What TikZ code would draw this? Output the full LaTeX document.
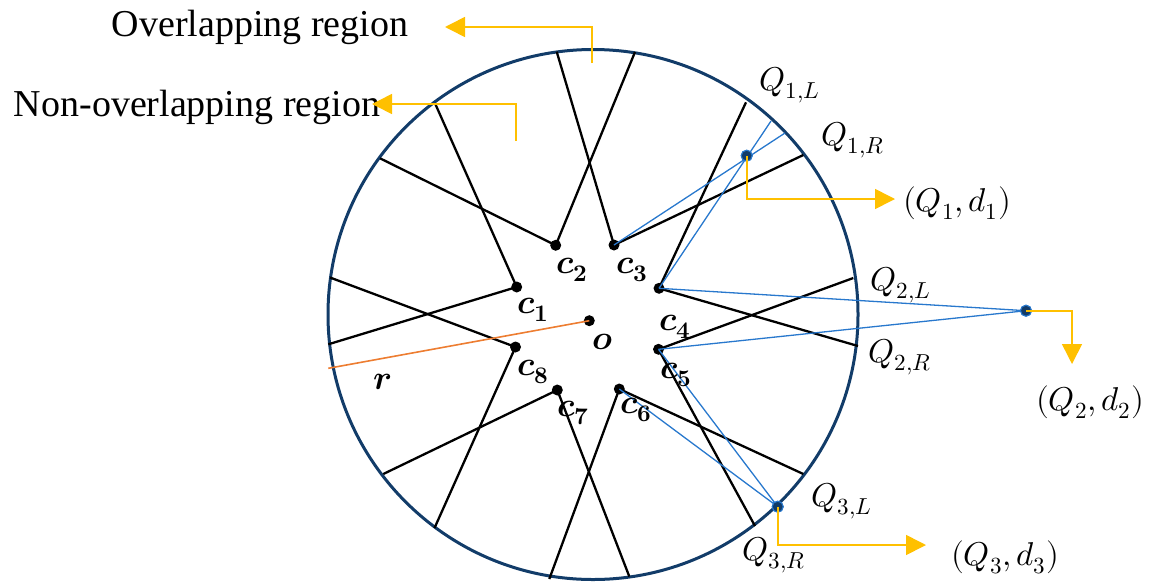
\documentclass[tikz,border=0pt]{standalone}
\usepackage{fontspec}
\usepackage{unicode-math}
\setmathfont{Latin Modern Math}
\usetikzlibrary{arrows.meta}
\newfontfamily\regionfont{Liberation Serif}
\definecolor{navy}{RGB}{18,60,105}
\definecolor{qblue}{RGB}{40,120,205}
\definecolor{yel}{RGB}{255,192,0}
\definecolor{orng}{RGB}{237,125,49}
\tikzset{
  rim/.style={draw=navy, line width=3pt},
  spoke/.style={draw=black, line width=2.3pt},
  ray/.style={draw=qblue, line width=1.3pt},
  radius line/.style={draw=orng, line width=1.6pt},
  yarrow/.style={draw=yel, line width=1.6pt, -{Triangle[length=20pt,width=20pt]}},
  dot/.style={circle, fill=black, inner sep=0pt, minimum size=11pt},
  qdot/.style={circle, fill=navy, draw=qblue, line width=1pt, inner sep=0pt, minimum size=11pt},
  clab/.style={inner sep=0pt, font=\fontsize{34}{38}\selectfont},
  qlab/.style={inner sep=0pt, font=\fontsize{33}{37}\selectfont},
  rtext/.style={inner sep=0pt, font=\regionfont\fontsize{38}{44}\selectfont}
}
\begin{document}
\begin{tikzpicture}[x=1pt,y=-1pt]
\useasboundingbox (0,0) rectangle (1150,584);
% rim
\coordinate (O) at (593,314.5);
\draw[rim] (O) circle[radius=265];
% circle end points
\coordinate (A1) at (435,103.3);
\coordinate (B1) at (328.3,344.3);
\coordinate (A2) at (380,158.3);
\coordinate (B2) at (635,52);
\coordinate (A3) at (556.7,51.7);
\coordinate (B3) at (803.3,155);
\coordinate (A4) at (746,102.3);
\coordinate (B4) at (858,346);
\coordinate (A5) at (853.3,278);
\coordinate (B5) at (755,526);
\coordinate (A6) at (803.3,474);
\coordinate (B6) at (549.3,579);
\coordinate (A7) at (629.3,576.5);
\coordinate (B7) at (383.3,474);
\coordinate (A8) at (330,277.5);
\coordinate (B8) at (434.5,528);
\coordinate (R) at (328.3,368.3);
\coordinate (E1) at (771,121);
\coordinate (E2) at (785,133);
% centre points
\node[dot] (c1) at (516.7,287) {};
\node[dot] (c2) at (555.7,245.3) {};
\node[dot] (c3) at (614,245) {};
\node[dot] (c4) at (659,288.3) {};
\node[dot] (c5) at (658.5,349.3) {};
\node[dot] (c6) at (619.3,389) {};
\node[dot] (c7) at (557.3,390) {};
\node[dot] (c8) at (515.5,347) {};
\node[dot] (o) at (589.3,320.7) {};
% spokes
\foreach \i in {1,...,8}{
  \draw[spoke] (A\i) -- (c\i.center) -- (B\i);
}
% radius
\draw[radius line] (o.center) -- (R);
% Q points and rays
\node[qdot] (Q1) at (746.7,155.7) {};
\node[qdot] (Q2) at (1026,310.7) {};
\node[qdot] (Q3) at (777.7,506.7) {};
\draw[ray] (c3.center) -- (E2);
\draw[ray] (c4.center) -- (E1);
\draw[ray] (c4.center) -- (Q2.center) -- (c5.center);
\draw[ray] (c5.center) -- (Q3.center) -- (c6.center);
\node[qdot] at (Q1) {};
\node[qdot] at (Q2) {};
\node[qdot] at (Q3) {};
% yellow arrows
\coordinate (t1) at (895,199);
\coordinate (t2) at (1072,364);
\coordinate (t3) at (926,545);
\draw[yarrow] (Q1.center) |- (t1);
\draw[yarrow] (Q2.center) -| (t2);
\draw[yarrow] (Q3.center) |- (t3);
\coordinate (ov) at (592,63);
\coordinate (ovt) at (445,27);
\coordinate (nov) at (516,141);
\coordinate (novt) at (372,104);
% region texts
\node[rtext] (tov) at (260,27) {Overlapping region};
\node[rtext] (tnov) at (197,107) {Non-overlapping region};
\draw[yarrow] (ov) |- (ovt);
\draw[yarrow] (nov) |- (novt);
% c labels
\node[clab] (l1) at (533,310) {$\symbfit{c}_{\symbf{1}}$};
\node[clab] (l2) at (572,270) {$\symbfit{c}_{\symbf{2}}$};
\node[clab] (l3) at (632,270) {$\symbfit{c}_{\symbf{3}}$};
\node[clab] (l4) at (675,327) {$\symbfit{c}_{\symbf{4}}$};
\node[clab] (l5) at (676,375) {$\symbfit{c}_{\symbf{5}}$};
\node[clab] (l6) at (636,410) {$\symbfit{c}_{\symbf{6}}$};
\node[clab] (l7) at (573,413) {$\symbfit{c}_{\symbf{7}}$};
\node[clab] (l8) at (533,372) {$\symbfit{c}_{\symbf{8}}$};
\node[clab] (lo) at (603,342) {$\symbfit{o}$};
\node[clab] (lr) at (383,382) {$\symbfit{r}$};
% Q labels
\node[qlab] (q1l) at (790,85) {$Q_{1,L}$};
\node[qlab] (q1r) at (853,140) {$Q_{1,R}$};
\node[qlab] (q2l) at (901,285) {$Q_{2,L}$};
\node[qlab] (q2r) at (900,357) {$Q_{2,R}$};
\node[qlab] (q3l) at (842,501) {$Q_{3,L}$};
\node[qlab] (q3r) at (774,555) {$Q_{3,R}$};
\node[qlab] (d1) at (957,203) {$(Q_1,d_1)$};
\node[qlab] (d2) at (1090,402) {$(Q_2,d_2)$};
\node[qlab] (d3) at (1005,557) {$(Q_3,d_3)$};
\end{tikzpicture}
\end{document}
